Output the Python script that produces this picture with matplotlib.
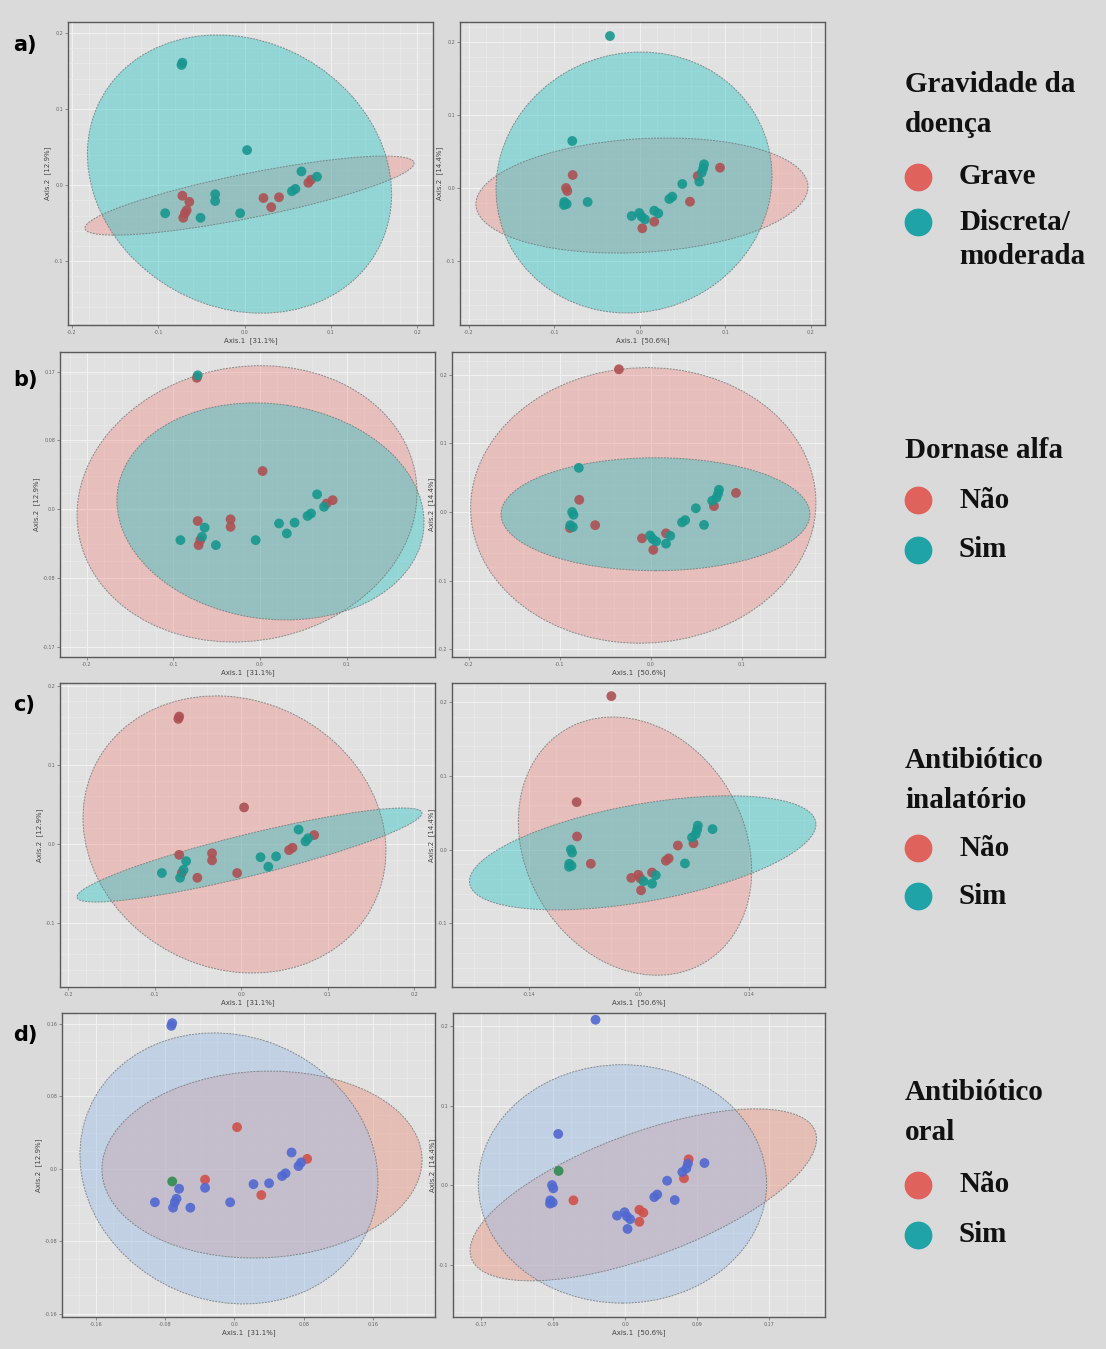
import numpy as np
import matplotlib
matplotlib.use("Agg")
import matplotlib.pyplot as plt
from matplotlib.patches import Ellipse
from matplotlib.lines import Line2D

# ---- data: left ordination (Axis.1 / Axis.2) ----
left_x = [-0.073, -0.072, 0.003, 0.066, 0.084, 0.077, 0.074, 0.055, 0.059, 0.022, 0.040,
          0.031, -0.034, -0.034, -0.072, -0.064, -0.067, -0.071, -0.092, -0.051, -0.005, -0.069]
left_y = [0.158, 0.161, 0.046, 0.018, 0.011, 0.007, 0.003, -0.008, -0.005, -0.017, -0.016,
          -0.029, -0.012, -0.021, -0.014, -0.022, -0.033, -0.043, -0.037, -0.043, -0.037, -0.037]

# ---- data: right ordination ----
right_x = [-0.0351, -0.0792, -0.0787, -0.0865, -0.0850, -0.0885, -0.0889, -0.0857, -0.0612,
           -0.0097, -0.0008, 0.0058, 0.0020, 0.0027, 0.0167, 0.0167, 0.0214, 0.0343, 0.0378,
           0.0495, 0.0585, 0.0675, 0.0694, 0.0722, 0.0740, 0.0749, 0.0936]
right_y = [0.2082, 0.0644, 0.0178, 0.0, -0.0041, -0.0192, -0.0233, -0.0219, -0.0192,
           -0.0384, -0.0342, -0.0429, -0.0393, -0.0552, -0.0462, -0.0311, -0.0347, -0.0151,
           -0.0119, 0.0055, -0.0188, 0.0164, 0.0086, 0.0210, 0.0270, 0.0325, 0.0278]

# group of each sample per panel (0 = Grave/Não, 1 = Discreta/Sim, 2 = other)
grp_a_left = [1, 1, 1, 1, 1, 0, 0, 1, 1, 0, 0, 0, 1, 1, 0, 0, 0, 0, 1, 1, 1, 0]
grp_b_left = [0, 1, 0, 1, 0, 0, 1, 1, 1, 1, 1, 1, 0, 0, 0, 1, 1, 0, 1, 1, 1, 0]
grp_c_left = [0, 0, 0, 1, 0, 1, 1, 0, 0, 1, 1, 1, 0, 0, 0, 1, 1, 1, 1, 0, 0, 0]
grp_d_left = [1, 1, 0, 1, 0, 1, 1, 1, 1, 1, 1, 0, 0, 1, 2, 1, 1, 1, 1, 1, 1, 1]
grp_a_right = [1, 1, 0, 0, 0, 1, 1, 1, 1, 1, 1, 1, 1, 0, 0, 1, 1, 1, 1, 1, 0, 0, 1, 1, 1, 1, 0]
grp_b_right = [0, 1, 0, 1, 1, 1, 0, 1, 0, 0, 1, 1, 1, 0, 1, 0, 1, 1, 1, 1, 1, 1, 0, 1, 1, 1, 0]
grp_c_right = [0, 0, 0, 1, 1, 1, 1, 1, 0, 0, 0, 1, 0, 0, 1, 0, 1, 0, 0, 0, 1, 1, 0, 1, 1, 1, 1]
grp_d_right = [1, 1, 2, 1, 1, 1, 1, 1, 0, 1, 1, 1, 1, 1, 0, 0, 0, 1, 1, 1, 1, 1, 0, 1, 1, 0, 1]

# ellipses per group: (center x, center y, half x-extent, half y-extent, correlation)
ell_a_left = [(0.0058, -0.0138, 0.1908, 0.052, 0.82), (-0.0058, 0.0145, 0.1763, 0.183, -0.144)]
ell_b_left = [(-0.015, 0.0066, 0.1965, 0.166, 0.08), (0.0121, -0.0025, 0.1775, 0.1304, -0.1)]
ell_c_left = [(-0.0081, 0.0118, 0.1751, 0.1753, -0.12), (0.0092, -0.0142, 0.1994, 0.0595, 0.89)]
ell_d_left = [(0.0318, 0.0047, 0.185, 0.1033, 0.05), (-0.0064, 0.0004, 0.1723, 0.1498, -0.1)]
ell_a_right = [(0.0023, -0.0103, 0.1942, 0.0788, 0.15), (-0.007, 0.0075, 0.1614, 0.1788, 0.05)]
ell_b_right = [(-0.0083, 0.0096, 0.1898, 0.201, 0.02), (0.0051, -0.0032, 0.1698, 0.0824, 0.0)]
ell_c_right = [(-0.005, 0.0047, 0.1484, 0.1752, -0.19), (0.0048, -0.0044, 0.2203, 0.0774, 0.5)]
ell_d_right = [(0.0213, -0.0123, 0.2047, 0.1083, 0.65), (-0.0033, 0.0015, 0.1703, 0.1501, 0.0)]

xlabel_left = "Axis.1  [31.1%]"
xlabel_right = "Axis.1  [50.6%]"
ylabel_left = "Axis.2  [12.9%]"
ylabel_right = "Axis.2  [14.4%]"

legend_titles = [["Gravidade da", "doença"], ["Dornase alfa"], ["Antibiótico", "inalatório"],
                 ["Antibiótico", "oral"]]
legend_labels = [[["Grave"], ["Discreta/", "moderada"]], [["Não"], ["Sim"]],
                 [["Não"], ["Sim"]], [["Não"], ["Sim"]]]

W, H = 1106, 1349
BG = "#dadada"
PANEL_BG = "#e1e1e1"

pts_std = ["#ad5053", "#17978f", "#2e8b4f"]
fill_std = ["#f08078", "#1fc2c4"]
pts_d = ["#d0504a", "#5068d0", "#2e8b4f"]
fill_d = ["#e89a88", "#9dbde8"]


def px_rect(x0, y0, x1, y1):
    return [x0 / W, 1 - y1 / H, (x1 - x0) / W, (y1 - y0) / H]


def fmt(v):
    if abs(v * 10 - round(v * 10)) < 1e-6:
        return "%.1f" % v
    return "%.2f" % v


def draw_ellipse(ax, e, color, alpha):
    cx, cy, hx, hy, r = e
    cov = np.array([[hx * hx, r * hx * hy], [r * hx * hy, hy * hy]])
    vals, vecs = np.linalg.eigh(cov)
    ang = np.degrees(np.arctan2(vecs[1, 1], vecs[0, 1]))
    w, h = 2 * np.sqrt(vals[1]), 2 * np.sqrt(vals[0])
    ax.add_patch(Ellipse((cx, cy), w, h, angle=ang, facecolor=color, alpha=alpha,
                         edgecolor="none", zorder=2))
    ax.add_patch(Ellipse((cx, cy), w, h, angle=ang, facecolor="none", edgecolor="#6e7676",
                         lw=0.7, ls=(0, (2, 1.2)), alpha=0.8, zorder=3))


def panel(rect, xs, ys, grp, ells, xlim, ylim, xticks, yticks, xlab, ylab, pts, fills, alphas):
    ax = fig.add_axes(px_rect(*rect))
    ax.set_facecolor(PANEL_BG)
    ax.set_xlim(xlim)
    ax.set_ylim(ylim)
    ax.set_xticks(xticks)
    ax.set_yticks(yticks)
    ax.set_xticklabels([fmt(v) for v in xticks])
    ax.set_yticklabels([fmt(v) for v in yticks])
    ax.minorticks_on()
    ax.grid(True, which="major", color="#f3f3f3", lw=0.7)
    ax.grid(True, which="minor", color="#ececec", lw=0.4)
    ax.set_axisbelow(True)
    ax.tick_params(which="both", labelsize=3.5, colors="#666666", length=2, width=0.5, pad=1.5)
    ax.tick_params(which="minor", length=0)
    ax.set_xlabel(xlab, fontsize=5, color="#444444", labelpad=2)
    ax.set_ylabel(ylab, fontsize=5, color="#444444", labelpad=2)
    for s in ax.spines.values():
        s.set_color("#5a5a5a")
        s.set_linewidth(1.0)
    for g, e in enumerate(ells):
        draw_ellipse(ax, e, fills[g], alphas[g])
    xs = np.array(xs)
    ys = np.array(ys)
    grp = np.array(grp)
    for g in range(3):
        m = grp == g
        if m.any():
            ax.scatter(xs[m], ys[m], s=50, color=pts[g], alpha=0.9, edgecolors="none", zorder=4)
    return ax


fig = plt.figure(figsize=(W / 100, H / 100), dpi=100)
fig.patch.set_facecolor(BG)

tk5 = [-0.2, -0.1, 0.0, 0.1, 0.2]
ty4 = [-0.1, 0.0, 0.1, 0.2]

panel((68, 22, 433, 325), left_x, left_y, grp_a_left, ell_a_left,
      (-0.2046, 0.2185), (-0.184, 0.2145), tk5, ty4, xlabel_left, ylabel_left,
      pts_std, fill_std, [0.35, 0.4])
panel((460, 22, 825, 325), right_x, right_y, grp_a_right, ell_a_right,
      (-0.2105, 0.2164), (-0.1877, 0.2274), tk5, ty4, xlabel_right, ylabel_right,
      pts_std, fill_std, [0.35, 0.4])

panel((60, 352, 435, 657), left_x, left_y, grp_b_left, ell_b_left,
      (-0.2312, 0.2023), (-0.1774, 0.189), [-0.2, -0.1, 0.0, 0.1],
      [-0.165, -0.083, 0.0, 0.083, 0.165], xlabel_left, ylabel_left,
      pts_std, fill_std, [0.35, 0.4])
panel((452, 352, 825, 657), right_x, right_y, grp_b_right, ell_b_right,
      (-0.2186, 0.1915), (-0.2115, 0.2334), [-0.2, -0.1, 0.0, 0.1],
      [-0.2, -0.1, 0.0, 0.1, 0.2], xlabel_right, ylabel_right,
      pts_std, fill_std, [0.35, 0.4])

panel((60, 683, 435, 987), left_x, left_y, grp_c_left, ell_c_left,
      (-0.2098, 0.2237), (-0.1812, 0.2034), tk5, ty4, xlabel_left, ylabel_left,
      pts_std, fill_std, [0.35, 0.4])
panel((452, 683, 825, 987), right_x, right_y, grp_c_right, ell_c_right,
      (-0.2377, 0.2366), (-0.1864, 0.226), [-0.14, 0.0, 0.14], ty4,
      xlabel_right, ylabel_right, pts_std, fill_std, [0.35, 0.4])

panel((62, 1013, 435, 1317), left_x, left_y, grp_d_left, ell_d_left,
      (-0.1994, 0.2318), (-0.1638, 0.1722), [-0.16, -0.08, 0.0, 0.08, 0.16],
      [-0.16, -0.08, 0.0, 0.08, 0.16], xlabel_left, ylabel_left,
      pts_d, fill_d, [0.5, 0.45])
panel((453, 1013, 825, 1317), right_x, right_y, grp_d_right, ell_d_right,
      (-0.2035, 0.236), (-0.1661, 0.2167), [-0.17, -0.085, 0.0, 0.085, 0.17], ty4,
      xlabel_right, ylabel_right, pts_d, fill_d, [0.5, 0.45])

# panel letters
for lab, y in zip(["a)", "b)", "c)", "d)"], [45, 380, 705, 1035]):
    fig.text(13 / W, 1 - y / H, lab, fontsize=15, fontweight="bold", va="center", ha="left")

# legends on the right
serif = "Liberation Serif"
leg_title_y = [85, 450, 760, 1092]
leg_item_y = [[177, 222], [500, 550], [848, 896], [1185, 1235]]
leg_cols = ["#e0625c", "#1fa3a6"]
for lines, ty, labs, iy in zip(legend_titles, leg_title_y, legend_labels, leg_item_y):
    for i, line in enumerate(lines):
        fig.text(905 / W, 1 - (ty + 40 * i) / H, line, fontsize=21, fontweight="bold",
                 family=serif, va="center", ha="left", color="#111111")
    for lab_lines, yy, col in zip(labs, iy, leg_cols):
        fig.add_artist(Line2D([918 / W], [1 - yy / H], marker="o", markersize=19,
                              color=col, transform=fig.transFigure))
        for i, line in enumerate(lab_lines):
            fig.text(959 / W, 1 - (yy + 35 * i) / H, line, fontsize=21, fontweight="bold",
                     family=serif, va="center", ha="left", color="#111111")

fig.savefig("out.png", dpi=100, facecolor=BG)
